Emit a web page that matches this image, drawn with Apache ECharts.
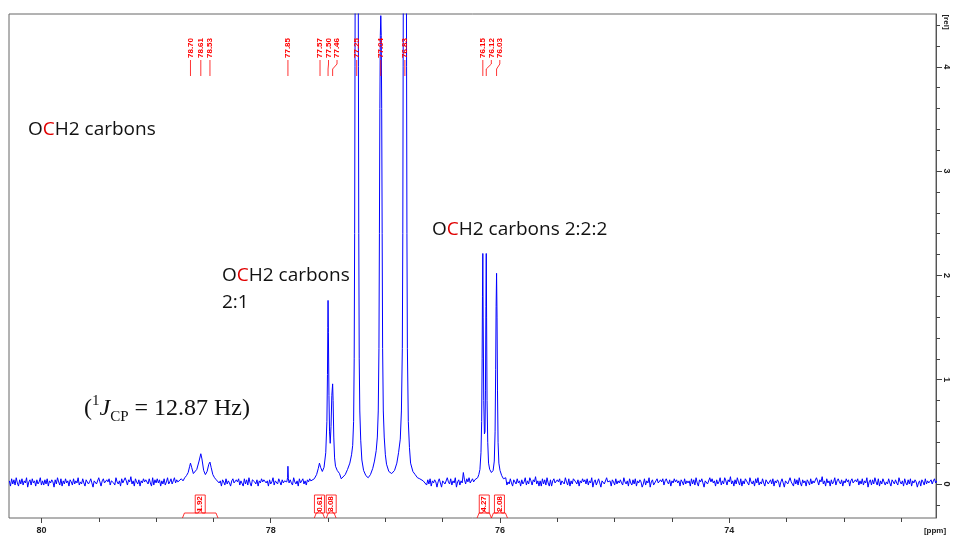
<!DOCTYPE html>
<html>
<head>
<meta charset="utf-8">
<script src="https://cdn.jsdelivr.net/npm/echarts@6/dist/echarts.min.js"></script>
<style>
  html, body { margin: 0; padding: 0; background: #fff; }
  #chart { width: 954px; height: 538px; }
</style>
</head>
<body>
<div id="chart"></div>
<script>
// 13C{1H} spectrum, OCH2 region (ppm, relative intensity)

// baseline stretches, sampled every 0.01 ppm from the listed start
const noiseStep = 0.01;
const noiseStarts = [80.28, 78.45, 77.83, 76.64, 75.95];
const noiseA = [
  0.03, -0.02, 0.05, 0.00, 0.04, -0.01, 0.06, 0.01, -0.02, 0.04,
  0.00, 0.05, -0.01, 0.03, 0.01, 0.06, -0.03, 0.02, 0.04, -0.01,
  0.05, 0.01, 0.03, -0.02, 0.04, 0.00, 0.02, 0.06, -0.01, 0.03,
  -0.01, 0.04, 0.00, 0.05, -0.02, 0.03, 0.01, 0.04, 0.02, -0.03,
  0.04, 0.00, 0.06, 0.02, -0.01, 0.05, -0.02, 0.03, 0.00, 0.05,
  0.01, 0.03, -0.02, 0.04, 0.02, -0.01, 0.05, 0.00, 0.03, 0.01,
  0.06, -0.01, 0.02, 0.00, 0.05, 0.01, -0.02, 0.04, 0.03, 0.00,
  0.02, 0.05, 0.01, -0.03, 0.03, 0.04, 0.00, -0.01, 0.06, 0.02,
  -0.02, 0.03, 0.05, 0.01, 0.00, 0.04, 0.02, 0.05, -0.01, 0.03,
  0.04, 0.01, -0.01, 0.06, 0.02, 0.00, 0.03, -0.02, 0.05, 0.01,
  0.00, 0.06, 0.03, -0.01, 0.04, 0.02, 0.07, 0.00, 0.03, -0.02,
  0.05, 0.02, 0.00, 0.04, -0.02, 0.03, 0.01, 0.05, 0.02, 0.04,
  0.03, 0.00, 0.05, 0.01, -0.02, 0.06, -0.01, 0.04, 0.01, 0.05,
  0.01, 0.04, -0.02, 0.03, 0.00, 0.05, -0.01, 0.02, 0.06, 0.00,
  0.02, 0.05, 0.00, 0.03, 0.06, 0.01, 0.04, 0.02
];
const noiseB = [
  0.01, 0.03, -0.02, 0.04, 0.02, -0.01, 0.05, 0.00, 0.03, 0.01,
  -0.02, 0.03, 0.05, 0.01, 0.00, 0.04, 0.02, 0.05, -0.01, 0.03,
  0.03, -0.02, 0.05, 0.00, 0.04, -0.01, 0.06, 0.01, -0.02, 0.04,
  0.05, 0.02, 0.00, 0.04, -0.02, 0.03, 0.01, 0.05, 0.02, 0.04,
  0.05, 0.01, 0.03, -0.02, 0.04, 0.00, 0.02, 0.06, -0.01, 0.03,
  0.03, 0.00, 0.05, 0.02, -0.01, 0.04, 0.01, 0.03, 0.02
];
const noiseC = [
  0.04, 0.01, -0.01, 0.06, 0.02, 0.00, 0.03, -0.02, 0.05, 0.01,
  0.02, 0.05, 0.00, 0.03, -0.01, 0.04, 0.02, 0.05, 0.03
];
const noiseD = [
  -0.01, 0.04, 0.00, 0.05, -0.02, 0.03, 0.01, 0.04, 0.02, -0.03,
  0.02, 0.05, 0.01, -0.03, 0.03, 0.04, 0.00, -0.01, 0.06, 0.02,
  0.00, 0.05, -0.01, 0.03, 0.01, 0.06, -0.03, 0.02, 0.04, -0.01,
  0.03, 0.01, 0.11, 0.04, 0.00, 0.05, 0.02, 0.06, 0.01, 0.03,
  0.05, 0.02, 0.04
];
const noiseE = [
  0.06, -0.01, 0.02, 0.00, 0.05, 0.01, -0.02, 0.04, 0.03, 0.00,
  0.05, 0.01, 0.03, -0.02, 0.04, 0.00, 0.02, 0.06, -0.01, 0.03,
  0.00, 0.06, 0.03, -0.01, 0.04, 0.02, 0.07, 0.00, 0.03, -0.02,
  0.03, -0.02, 0.05, 0.00, 0.04, -0.01, 0.06, 0.01, -0.02, 0.04,
  -0.02, 0.03, 0.05, 0.01, 0.00, 0.04, 0.02, 0.05, -0.01, 0.03,
  0.04, 0.00, 0.06, 0.02, -0.01, 0.05, -0.02, 0.03, 0.00, 0.05,
  0.05, 0.02, 0.00, 0.04, -0.02, 0.03, 0.01, 0.05, 0.02, 0.04,
  0.00, 0.05, -0.01, 0.03, 0.01, 0.06, -0.03, 0.02, 0.04, -0.01,
  0.02, 0.05, 0.01, -0.03, 0.03, 0.04, 0.00, -0.01, 0.06, 0.02,
  0.01, 0.03, -0.02, 0.04, 0.02, -0.01, 0.05, 0.00, 0.03, 0.01,
  0.04, 0.01, -0.01, 0.06, 0.02, 0.00, 0.03, -0.02, 0.05, 0.01,
  -0.01, 0.04, 0.00, 0.05, -0.02, 0.03, 0.01, 0.04, 0.02, -0.03,
  0.00, 0.05, -0.01, 0.03, 0.01, 0.06, -0.03, 0.02, 0.04, -0.01,
  -0.02, 0.03, 0.05, 0.01, 0.00, 0.04, 0.02, 0.05, -0.01, 0.03,
  0.05, 0.02, 0.00, 0.04, -0.02, 0.03, 0.01, 0.05, 0.02, 0.04,
  0.01, 0.03, -0.02, 0.04, 0.02, -0.01, 0.05, 0.00, 0.03, 0.01,
  0.03, -0.02, 0.05, 0.00, 0.04, -0.01, 0.06, 0.01, -0.02, 0.04,
  0.02, 0.05, 0.01, -0.03, 0.03, 0.04, 0.00, -0.01, 0.06, 0.02,
  0.05, 0.01, 0.03, -0.02, 0.04, 0.00, 0.02, 0.06, -0.01, 0.03,
  0.00, 0.06, 0.03, -0.01, 0.04, 0.02, 0.07, 0.00, 0.03, -0.02,
  0.04, 0.00, 0.06, 0.02, -0.01, 0.05, -0.02, 0.03, 0.00, 0.05,
  0.04, 0.01, -0.01, 0.06, 0.02, 0.00, 0.03, -0.02, 0.05, 0.01,
  0.06, -0.01, 0.02, 0.00, 0.05, 0.01, -0.02, 0.04, 0.03, 0.00,
  -0.01, 0.04, 0.00, 0.05, -0.02, 0.03, 0.01, 0.04, 0.02, -0.03,
  0.02, 0.05, 0.01, -0.03, 0.03, 0.04, 0.00, -0.01, 0.06, 0.02,
  0.03, -0.02, 0.05, 0.00, 0.04, -0.01, 0.06, 0.01, -0.02, 0.04,
  0.01, 0.03, -0.02, 0.04, 0.02, -0.01, 0.05, 0.00, 0.03, 0.01,
  0.00, 0.06, 0.03, -0.01, 0.04, 0.02, 0.07, 0.00, 0.03, -0.02,
  0.05, 0.01, 0.03, -0.02, 0.04, 0.00, 0.02, 0.06, -0.01, 0.03,
  0.05, 0.02, 0.00, 0.04, -0.02, 0.03, 0.01, 0.05, 0.02, 0.04,
  -0.02, 0.03, 0.05, 0.01, 0.00, 0.04, 0.02, 0.05, -0.01, 0.03,
  0.00, 0.05, -0.01, 0.03, 0.01, 0.06, -0.03, 0.02, 0.04, -0.01,
  0.04, 0.00, 0.06, 0.02, -0.01, 0.05, -0.02, 0.03, 0.00, 0.05,
  0.06, -0.01, 0.02, 0.00, 0.05, 0.01, -0.02, 0.04, 0.03, 0.00,
  0.04, 0.01, -0.01, 0.06, 0.02, 0.00, 0.03, -0.02, 0.05, 0.01,
  -0.01, 0.04, 0.00, 0.05, -0.02, 0.03, 0.01, 0.04, 0.02, -0.03,
  0.01, 0.03, -0.02, 0.04, 0.02, -0.01, 0.05, 0.00, 0.03, 0.01,
  0.02, 0.04, 0.00, 0.03, 0.05, 0.01, 0.03
];

// multiplet at 78.70 / 78.61 / 78.53
const tripletA = [
  [78.80, 0.03], [78.78, 0.05], [78.765, 0.03], [78.75, 0.06], [78.735, 0.08], [78.72, 0.11],
  [78.707, 0.17], [78.70, 0.20], [78.69, 0.16], [78.675, 0.10], [78.66, 0.11],
  [78.645, 0.14], [78.625, 0.22], [78.61, 0.29], [78.60, 0.24], [78.585, 0.13],
  [78.57, 0.09], [78.555, 0.12], [78.54, 0.19], [78.53, 0.21], [78.52, 0.16],
  [78.505, 0.09], [78.49, 0.06], [78.475, 0.04], [78.46, 0.03]
];
// sharp line at 77.85
const spikeA = [[77.86, 0.02], [77.853, 0.06], [77.85, 0.17], [77.846, 0.05], [77.84, 0.01]];
// 77.57 / 77.50 / 77.46 and the CDCl3 triplet 77.25 / 77.04 / 76.83
const groupA = [
  [77.64, 0.03], [77.62, 0.05], [77.60, 0.09], [77.585, 0.15], [77.575, 0.20],
  [77.565, 0.16], [77.55, 0.12], [77.535, 0.16], [77.52, 0.30], [77.51, 0.60],
  [77.505, 1.05], [77.502, 1.50], [77.50, 1.76], [77.497, 1.45], [77.492, 0.85],
  [77.487, 0.50], [77.481, 0.39], [77.474, 0.55], [77.467, 0.85], [77.46, 0.96],
  [77.456, 0.80], [77.45, 0.45], [77.443, 0.25], [77.435, 0.17], [77.42, 0.13],
  [77.40, 0.10], [77.385, 0.05], [77.37, 0.06], [77.35, 0.09], [77.33, 0.14],
  [77.31, 0.20], [77.295, 0.28], [77.285, 0.37], [77.277, 0.60], [77.272, 1.20],
  [77.268, 2.40], [77.265, 4.00], [77.262, 5.50], [77.25, 7.50], [77.238, 5.50],
  [77.235, 4.00], [77.232, 2.40], [77.228, 1.20], [77.223, 0.70], [77.215, 0.42],
  [77.205, 0.23], [77.19, 0.13], [77.17, 0.08], [77.15, 0.06], [77.13, 0.09],
  [77.11, 0.15], [77.095, 0.22], [77.08, 0.32], [77.07, 0.45], [77.062, 0.70],
  [77.056, 1.30], [77.052, 2.40], [77.048, 3.60], [77.044, 4.30], [77.04, 4.49],
  [77.036, 4.30], [77.032, 3.60], [77.028, 2.40], [77.024, 1.30], [77.018, 0.70],
  [77.01, 0.45], [77.00, 0.28], [76.99, 0.19], [76.97, 0.12], [76.945, 0.10],
  [76.92, 0.13], [76.90, 0.20], [76.885, 0.30], [76.87, 0.43], [76.86, 0.70],
  [76.852, 1.30], [76.848, 2.40], [76.845, 4.00], [76.842, 5.50], [76.83, 7.50],
  [76.818, 5.50], [76.815, 4.00], [76.812, 2.40], [76.808, 1.30], [76.80, 0.60],
  [76.79, 0.35], [76.78, 0.20], [76.76, 0.12], [76.74, 0.09], [76.72, 0.06],
  [76.70, 0.05], [76.67, 0.03]
];
// 76.15 / 76.12 / 76.03
const groupB = [
  [76.21, 0.04], [76.195, 0.06], [76.185, 0.09], [76.175, 0.14], [76.166, 0.30],
  [76.16, 0.60], [76.156, 1.20], [76.153, 1.80], [76.15, 2.21], [76.147, 1.60],
  [76.142, 0.80], [76.136, 0.48], [76.131, 0.50], [76.127, 0.90], [76.123, 1.70],
  [76.12, 2.21], [76.117, 1.60], [76.113, 0.80], [76.107, 0.40], [76.10, 0.20],
  [76.09, 0.14], [76.075, 0.11], [76.06, 0.13], [76.05, 0.22], [76.043, 0.50],
  [76.038, 1.10], [76.034, 1.70], [76.03, 2.02], [76.026, 1.60], [76.022, 0.90],
  [76.017, 0.40], [76.01, 0.20], [76.00, 0.13], [75.985, 0.08], [75.97, 0.05]
];

// peak picking labels
const peakLabels = [78.70, 78.61, 78.53, 77.85, 77.57, 77.50, 77.46, 77.25, 77.04, 76.83, 76.15, 76.12, 76.03];

// integrals: region limits (ppm) and values
const integralFrom = [78.77, 77.62, 77.515, 76.20, 76.075];
const integralTo = [78.46, 77.53, 77.43, 76.075, 75.935];
const integralValues = ['1.92', '0.61', '3.08', '4.27', '2.08'];

// axis ticks
const xMajorTicks = [74, 76, 78, 80];
const xMinorTicks = [72.5, 73, 73.5, 74, 74.5, 75, 75.5, 76, 76.5, 77, 77.5, 78, 78.5, 79, 79.5, 80];
const yMajorTicks = [0, 1, 2, 3, 4];
const yMinorTicks = [-0.2, 0, 0.2, 0.4, 0.6, 0.8, 1, 1.2, 1.4, 1.6, 1.8, 2, 2.2, 2.4, 2.6, 2.8, 3, 3.2, 3.4, 3.6, 3.8, 4, 4.2, 4.4];

const X_MIN = 72.197, X_MAX = 80.283;
const Y_MIN = -0.326, Y_MAX = 4.506;

function stretch(start, values) {
  return values.map((v, i) => [+(start - i * noiseStep).toFixed(3), v]);
}
const spectrum = [].concat(
  stretch(noiseStarts[0], noiseA),
  tripletA,
  stretch(noiseStarts[1], noiseB),
  spikeA,
  stretch(noiseStarts[2], noiseC),
  groupA,
  stretch(noiseStarts[3], noiseD),
  groupB,
  stretch(noiseStarts[4], noiseE)
);

const RED = '#ff0000';
const LABEL_FONT = 'bold 8px "Liberation Sans", Arial, sans-serif';

function labelPositions(api) {
  const px = peakLabels.map(v => api.coord([v, 0])[0]);
  const lx = [];
  px.forEach((x, i) => lx.push(i === 0 ? x : Math.max(x, lx[i - 1] + 8.5)));
  return { px, lx };
}

const chart = echarts.init(document.getElementById('chart'), null, { renderer: 'canvas' });

const axisTextStyle = { color: '#222', fontSize: 9, fontWeight: 'bold', fontFamily: '"Liberation Sans", Arial, sans-serif' };
const sansRich = {
  k: { fontFamily: '"Open Sans", sans-serif', fontSize: 19, fill: '#111', lineHeight: 27 },
  r: { fontFamily: '"Open Sans", sans-serif', fontSize: 19, fill: '#e00000', lineHeight: 27 }
};
const serif = '"Liberation Serif", "Times New Roman", serif';

chart.setOption({
  animation: false,
  backgroundColor: '#fff',
  grid: {
    left: 9, right: 18, top: 14, bottom: 20,
    show: true, borderColor: '#666', borderWidth: 1, backgroundColor: 'transparent'
  },
  xAxis: [
    {
      type: 'value', inverse: true, min: X_MIN, max: X_MAX, position: 'bottom',
      axisLine: { show: false, onZero: false },
      splitLine: { show: false },
      axisTick: { show: true, inside: false, length: 5, lineStyle: { color: '#444' }, customValues: xMajorTicks },
      axisLabel: Object.assign({ margin: 8, customValues: xMajorTicks, formatter: v => String(Math.round(v)) }, axisTextStyle)
    },
    {
      type: 'value', inverse: true, min: X_MIN, max: X_MAX, position: 'bottom',
      axisLine: { show: false, onZero: false },
      splitLine: { show: false },
      axisTick: { show: true, inside: false, length: 4, lineStyle: { color: '#444' }, customValues: xMinorTicks },
      axisLabel: { show: false }
    }
  ],
  yAxis: [
    {
      type: 'value', min: Y_MIN, max: Y_MAX, position: 'right',
      axisLine: { show: true, onZero: false, lineStyle: { color: '#555' } },
      splitLine: { show: false },
      axisTick: { show: true, inside: false, length: 6, lineStyle: { color: '#444' }, customValues: yMajorTicks },
      axisLabel: Object.assign({ margin: 6, rotate: -90, customValues: yMajorTicks, formatter: v => String(Math.round(v)) }, axisTextStyle)
    },
    {
      type: 'value', min: Y_MIN, max: Y_MAX, position: 'right',
      axisLine: { show: false, onZero: false },
      splitLine: { show: false },
      axisTick: { show: true, inside: false, length: 4, lineStyle: { color: '#444' }, customValues: yMinorTicks },
      axisLabel: { show: false }
    }
  ],
  series: [
    {
      type: 'line',
      data: spectrum,
      showSymbol: false,
      symbol: 'none',
      sampling: null,
      clip: true,
      lineStyle: { color: '#0000ff', width: 1 },
      z: 3
    },
    {
      type: 'custom',
      data: peakLabels.map(v => [v, 0]),
      encode: { x: 0, y: 1 },
      z: 4,
      renderItem: function (params, api) {
        const i = params.dataIndex;
        const top = params.coordSys.y;
        const pos = labelPositions(api);
        const px = pos.px[i], lx = pos.lx[i];
        return {
          type: 'group',
          children: [
            {
              type: 'text', x: lx, y: top + 34, rotation: Math.PI / 2,
              style: { text: peakLabels[i].toFixed(2), fill: RED, font: LABEL_FONT, align: 'center', verticalAlign: 'middle' }
            },
            {
              type: 'polyline',
              shape: { points: [[lx, top + 46], [lx, top + 50], [px, top + 55], [px, top + 62]] },
              style: { stroke: RED, lineWidth: 0.8, fill: null }
            }
          ]
        };
      }
    },
    {
      type: 'custom',
      data: integralValues.map((v, i) => [integralFrom[i], integralTo[i]]),
      encode: { x: [0, 1] },
      z: 4,
      renderItem: function (params, api) {
        const i = params.dataIndex;
        const b = params.coordSys.y + params.coordSys.height;
        const x0 = api.coord([integralFrom[i], 0])[0];
        const x1 = api.coord([integralTo[i], 0])[0];
        const mid = (x0 + x1) / 2;
        const bw = 10;
        return {
          type: 'group',
          children: [
            {
              type: 'polyline',
              shape: { points: [[x0, b], [x0 + 2, b - 5], [mid - 2, b - 5], [mid, b - 8], [mid + 2, b - 5], [x1 - 2, b - 5], [x1, b]] },
              style: { stroke: RED, lineWidth: 0.8, fill: null }
            },
            {
              type: 'rect',
              shape: { x: mid - bw / 2, y: b - 23, width: bw, height: 18 },
              style: { stroke: RED, lineWidth: 0.8, fill: null }
            },
            {
              type: 'text', x: mid, y: b - 14, rotation: Math.PI / 2,
              style: { text: integralValues[i], fill: RED, font: LABEL_FONT, align: 'center', verticalAlign: 'middle' }
            }
          ]
        };
      }
    }
  ],
  graphic: [
    {
      type: 'text', x: 946, y: 22, rotation: -Math.PI / 2,
      style: { text: '[rel]', fill: '#222', font: 'bold 8px "Liberation Sans", Arial, sans-serif', align: 'center', verticalAlign: 'middle' }
    },
    {
      type: 'text', x: 935, y: 531,
      style: { text: '[ppm]', fill: '#222', font: 'bold 8px "Liberation Sans", Arial, sans-serif', align: 'center', verticalAlign: 'middle' }
    },
    {
      type: 'text', x: 28, y: 130,
      style: { text: '{k|O}{r|C}{k|H2 carbons}', rich: sansRich, align: 'left', verticalAlign: 'middle' }
    },
    {
      type: 'text', x: 432, y: 230,
      style: { text: '{k|O}{r|C}{k|H2 carbons 2:2:2}', rich: sansRich, align: 'left', verticalAlign: 'middle' }
    },
    {
      type: 'text', x: 222, y: 289,
      style: { text: '{k|O}{r|C}{k|H2 carbons}\n{k|2:1}', rich: sansRich, align: 'left', verticalAlign: 'middle' }
    },
    {
      type: 'text', x: 84, y: 409,
      style: {
        text: '{t|(}{sup|1}{i|J}{sub|CP}{t| = 12.87 Hz)}',
        align: 'left', verticalAlign: 'middle',
        rich: {
          t: { fontFamily: serif, fontSize: 24, fill: '#111', lineHeight: 31 },
          i: { fontFamily: serif, fontSize: 24, fontStyle: 'italic', fill: '#111', lineHeight: 31 },
          sup: { fontFamily: serif, fontSize: 15, fill: '#111', lineHeight: 16, verticalAlign: 'top' },
          sub: { fontFamily: serif, fontSize: 15, fill: '#111', lineHeight: 16, verticalAlign: 'bottom' }
        }
      }
    }
  ]
});
</script>
</body>
</html>
